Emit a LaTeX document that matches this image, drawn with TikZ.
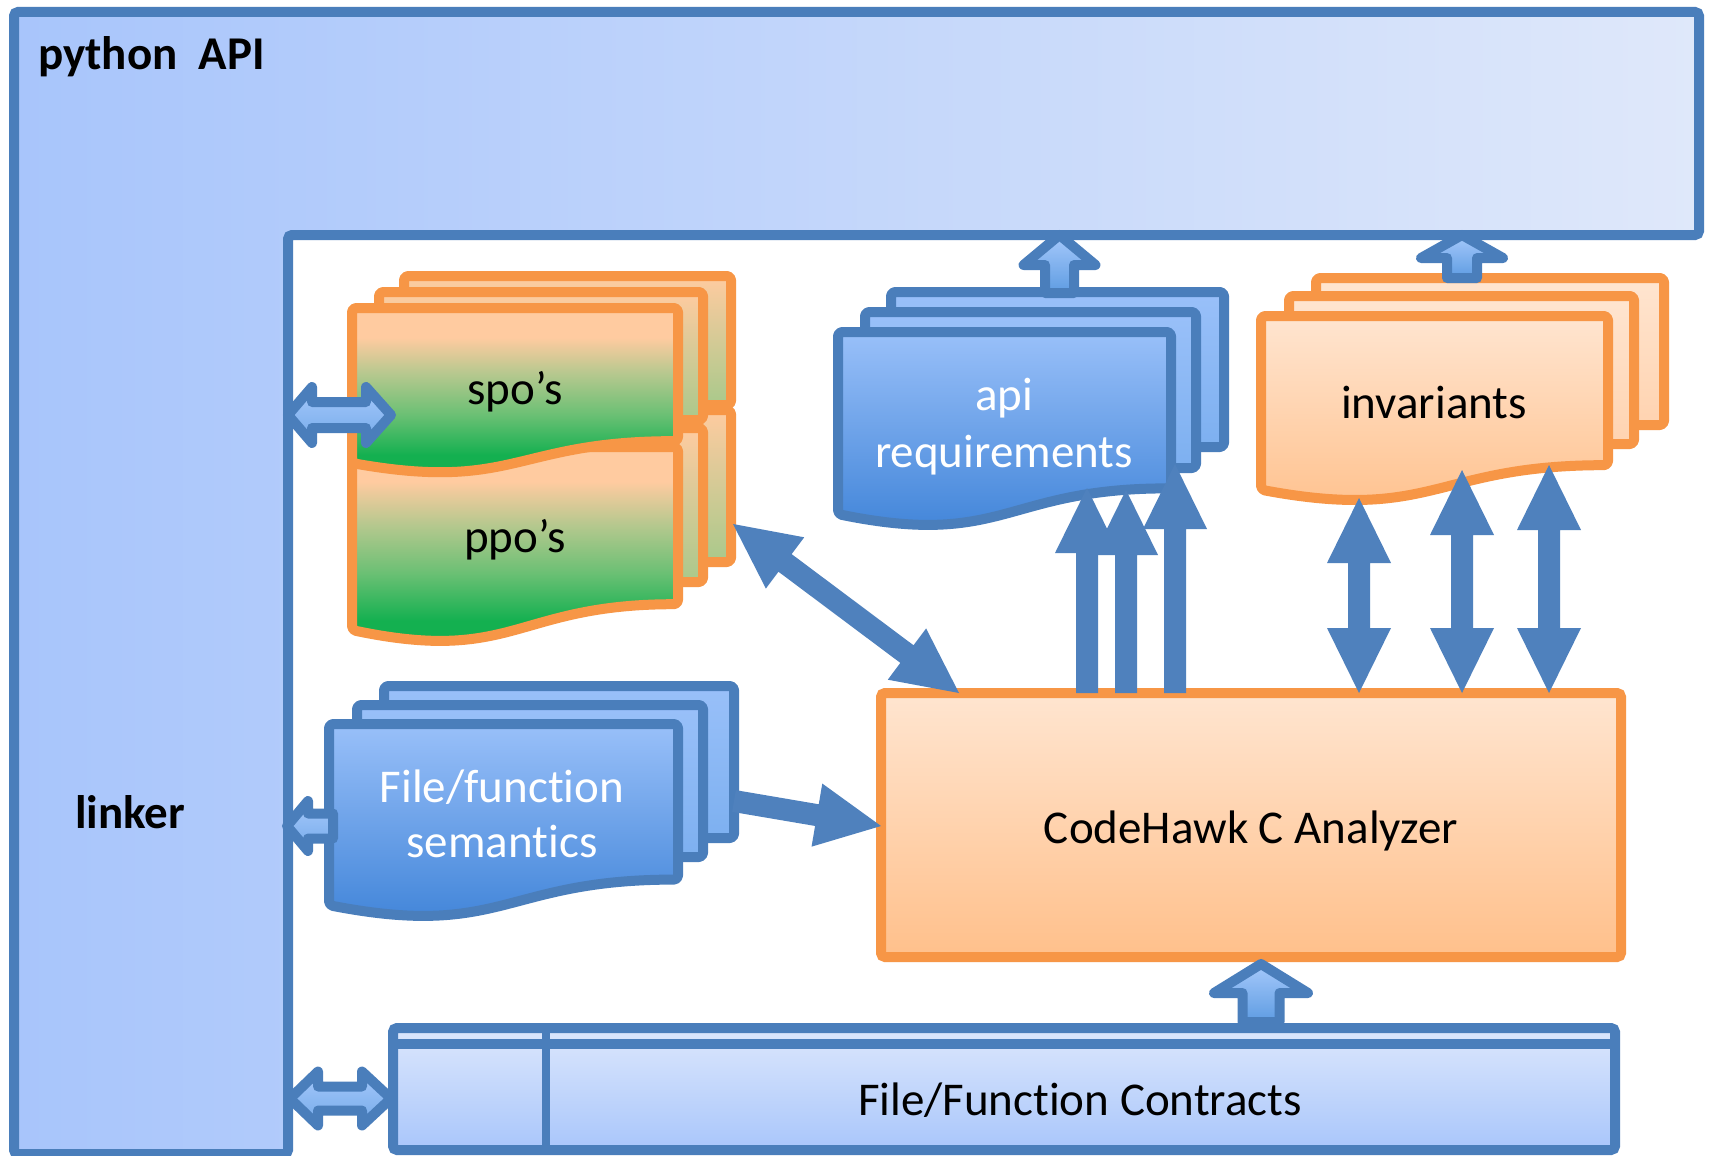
\documentclass[tikz,border=0pt]{standalone}
\usepackage{fontspec}
\setmainfont{Carlito}[Ligatures=NoCommon]
\usetikzlibrary{calc}
\definecolor{bordc}{HTML}{4A7EBB}
\definecolor{arrc}{HTML}{4F81BD}
\definecolor{orc}{HTML}{F79646}
\definecolor{Lleft}{HTML}{A8C5FB}
\definecolor{Lright}{HTML}{DFE8FA}
\definecolor{pchA}{HTML}{FFCBA0}
\definecolor{tanG}{HTML}{B5C88E}
\definecolor{midG}{HTML}{6BC074}
\definecolor{grnA}{HTML}{14B050}
\definecolor{bkG}{HTML}{A9C98B}
\definecolor{bluT}{HTML}{99C0F9}
\definecolor{bluB}{HTML}{3A80D6}
\definecolor{bluM}{HTML}{7DB0F0}
\definecolor{invT}{HTML}{FFE5D0}
\definecolor{invB}{HTML}{FFC08B}
\definecolor{invBk}{HTML}{FFD3B0}
\definecolor{conT}{HTML}{DCE7FC}
\definecolor{conB}{HTML}{A9C6FB}
\definecolor{sarT}{HTML}{A6C9FB}
\definecolor{sarB}{HTML}{5E9CE2}
\pgfdeclareverticalshading{pgfront}{100bp}{color(0bp)=(grnA); color(25bp)=(grnA); color(35bp)=(grnA); color(46bp)=(midG); color(57bp)=(tanG); color(67bp)=(pchA); color(100bp)=(pchA)}
\newcommand\bigf{\fontsize{47}{56}\selectfont}
\newcommand\pagefront[5]{\path[#5] (#1,#2) -- (#3,#2) -- (#3,{#2+0.802*#4}) .. controls ({(#1+#3)/2},{#2+0.802*#4}) and ({(#1+#3)/2},{#2+1.1075*#4}) .. (#1,{#2+0.934*#4}) -- cycle;}
\newcommand\upblk[6]{\path[sarrow] (#1,#2) -- ({#1+#5},#3) -- ({#1+#6},#3) -- ({#1+#6},#4) -- ({#1-#6},#4) -- ({#1-#6},#3) -- ({#1-#5},#3) -- cycle;}
\newcommand\hdbl[7]{\path[sarrowh] (#1,#3) -- (#4,{#3-#6}) -- (#4,{#3-#7}) -- (#5,{#3-#7}) -- (#5,{#3-#6}) -- (#2,#3) -- (#5,{#3+#6}) -- (#5,{#3+#7}) -- (#4,{#3+#7}) -- (#4,{#3+#6}) -- cycle;}
\newcommand\solidarrow[2]{%
 \coordinate (sh) at ($(#2)!65pt!(#1)$);
 \fill[arrc] ($(#1)!11pt!90:(#2)$) -- ($(sh)!11pt!-90:(#1)$) -- ($(sh)!32pt!-90:(#1)$) -- (#2) -- ($(sh)!32pt!90:(#1)$) -- ($(sh)!11pt!90:(#1)$) -- ($(#1)!11pt!-90:(#2)$) -- cycle;}
\newcommand\soliddbl[2]{%
 \coordinate (ha) at ($(#1)!65pt!(#2)$);
 \coordinate (hb) at ($(#2)!65pt!(#1)$);
 \fill[arrc] (#1) -- ($(ha)!32pt!90:(#2)$) -- ($(ha)!11pt!90:(#2)$) -- ($(hb)!11pt!-90:(#1)$) -- ($(hb)!32pt!-90:(#1)$) -- (#2) -- ($(hb)!32pt!90:(#1)$) -- ($(hb)!11pt!90:(#1)$) -- ($(ha)!11pt!-90:(#2)$) -- ($(ha)!32pt!-90:(#2)$) -- cycle;}
\begin{document}
\begin{tikzpicture}[x=1pt,y=-1pt,
  txt/.style={font=\bigf, inner sep=0pt},
  orpage/.style={draw=orc, line width=10pt, rounded corners=4pt, line join=round},
  blpage/.style={draw=bordc, line width=10pt, rounded corners=4pt, line join=round},
  sarrow/.style={draw=bordc, line width=10pt, line join=round, top color=sarT, bottom color=sarB},
  sarrowh/.style={draw=bordc, line width=10pt, line join=round, top color=sarT, bottom color=sarB!70!sarT}]
\useasboundingbox (0,0) rectangle (1709,1156);
\fill[white] (0,0) rectangle (1709,1156);
% python API / linker frame
\path[draw=bordc, line width=10pt, rounded corners=4pt, left color=Lleft, right color=Lright] (14,12) -- (1699,12) -- (1699,235) -- (288,235) -- (288,1154) -- (14,1154) -- cycle;
\node[txt, font=\bigf\bfseries, anchor=base west] (pyapi) at (38,70) {python~~API};
\node[txt, font=\bigf\bfseries, anchor=base west] (linker) at (75,828) {linker};
% ppo stack
\path[orpage, top color=pchA, bottom color=bkG] (404,410) rectangle (731,562);
\path[orpage, top color=pchA, bottom color=bkG] (379,428) rectangle (703,582);
\pagefront{352}{447}{678}{196}{orpage, shading=pgfront}
\node[txt, anchor=base] (ppo) at (515,552) {ppo’s};
% spo stack
\path[orpage, top color=pchA, bottom color=bkG] (404,276) rectangle (731,405);
\path[orpage, top color=pchA, bottom color=bkG] (379,292) rectangle (703,420);
\pagefront{352}{308}{678}{166}{orpage, shading=pgfront}
\node[txt, anchor=base] (spo) at (515,404) {spo’s};
\hdbl{288}{391}{415}{312}{366}{28}{13}
% api requirements stack
\path[blpage, top color=bluT, bottom color=bluM] (891,292) rectangle (1224,447);
\path[blpage, top color=bluT, bottom color=bluM] (865,312) rectangle (1196,468);
\pagefront{838}{332}{1171}{195}{blpage, top color=bluT, bottom color=bluB}
\node[txt, text=white, anchor=base] (api1) at (1004,410) {api};
\node[txt, text=white, anchor=base] (api2) at (1004,467) {requirements};
\upblk{1059.5}{235}{265}{293}{36}{14.5}
% invariants stack
\path[orpage, top color=invT, bottom color=invBk] (1316,278) rectangle (1664,425);
\path[orpage, top color=invT, bottom color=invBk] (1289,296) rectangle (1634,444);
\pagefront{1261}{316}{1608}{186}{orpage, top color=invT, bottom color=invB}
\node[txt, anchor=base] (inv) at (1434,418) {invariants};
\upblk{1462}{235}{258}{278}{41}{15}
% semantics stack
\path[blpage, top color=bluT, bottom color=bluM] (384,686) rectangle (734,838);
\path[blpage, top color=bluT, bottom color=bluM] (357,705) rectangle (703,857);
\pagefront{329}{724}{678}{194}{blpage, top color=bluT, bottom color=bluB}
\node[txt, text=white, anchor=base] (sem1) at (502,802) {File/function};
\node[txt, text=white, anchor=base] (sem2) at (502,857) {semantics};
\path[sarrowh] (287,826) -- (308,801) -- (308,813.5) -- (333,813.5) -- (333,838.5) -- (308,838.5) -- (308,851) -- cycle;
% analyzer
\path[draw=orc, line width=10pt, rounded corners=4pt, top color=invT, bottom color=invB] (881,693) rectangle (1621,957);
\node[txt, anchor=base] (cha) at (1251,843) {CodeHawk C Analyzer};
% contracts
\path[draw=bordc, line width=10pt, rounded corners=4pt, top color=conT, bottom color=conB] (393,1028) rectangle (1615,1150);
\draw[bordc, line width=10pt] (393,1044) -- (1615,1044);
\draw[bordc, line width=8pt] (546,1028) -- (546,1150);
\node[txt, anchor=base] (con) at (1080,1115) {File/Function Contracts};
\hdbl{290}{391}{1098.5}{318}{362}{27}{12}
\upblk{1261}{964}{993}{1022}{47}{18.5}
% solid arrows
\coordinate (ppoE) at (733,524); \coordinate (chaNW) at (959,693);
\soliddbl{ppoE}{chaNW}
\coordinate (semE) at (734,801); \coordinate (chaW) at (881,826);
\solidarrow{semE}{chaW}
\coordinate (a1s) at (1087,693); \coordinate (a1t) at (1087,488);
\coordinate (a2s) at (1126,693); \coordinate (a2t) at (1126,490);
\coordinate (a3s) at (1175,693); \coordinate (a3t) at (1175,464);
\solidarrow{a1s}{a1t}
\solidarrow{a2s}{a2t}
\solidarrow{a3s}{a3t}
\coordinate (d1a) at (1359,498); \coordinate (d1b) at (1359,693);
\coordinate (d2a) at (1462,470); \coordinate (d2b) at (1462,693);
\coordinate (d3a) at (1549,465); \coordinate (d3b) at (1549,693);
\soliddbl{d1a}{d1b}
\soliddbl{d2a}{d2b}
\soliddbl{d3a}{d3b}
\end{tikzpicture}
\end{document}
